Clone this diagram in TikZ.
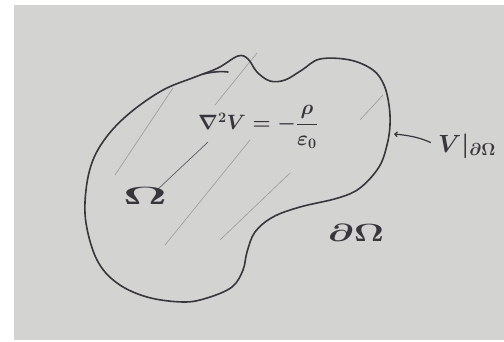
\documentclass[tikz,border=0pt]{standalone}
\usepackage{amsmath,amssymb}
\usepackage{graphicx}
\usepackage{tikz}
\usetikzlibrary{arrows.meta,calc}
\definecolor{sketchink}{HTML}{38353D}
\definecolor{sketchpaper}{HTML}{D3D3D1}
\definecolor{sketchpencil}{HTML}{9A9A9C}

\begin{document}
\begin{tikzpicture}[
  x=1pt, y=-1pt,
  ink/.style={draw=sketchink, line width=1.6pt, line cap=round, line join=round},
  pencil/.style={draw=sketchpencil, line width=0.6pt, line cap=round},
  lab/.style={text=sketchink, inner sep=0pt},
  arr/.style={-{Straight Barb[length=2.5pt,width=5pt]}, draw=sketchink, line width=1.2pt},
]
% paper sheet
\fill[white] (0,0) rectangle (504,341);
\useasboundingbox (0,0) rectangle (504,341);
\fill[sketchpaper] (14,5) rectangle (504,340);
% pencil hatching
\draw[pencil] (173,88) -- (115,175);
\draw[pencil] (257,53) -- (215,105);
\draw[pencil, draw=sketchink!80, line width=0.7pt] (208,142) -- (157,190);
\draw[pencil] (250,140) -- (165,245);
\draw[pencil] (290,173) -- (220,240);
\draw[pencil] (383,95) -- (360,120);
% region outline
\draw[ink] plot[smooth cycle, tension=0.6] coordinates {
  (218,68) (238,56) (248,59) (257,72) (270,81) (285,80) (302,70) (320,59)
  (350,60) (373,70) (384,85) (389,105) (390,125) (387,145) (379,167)
  (360,188) (338,198) (300,207) (273,217) (255,232) (247,252) (243,270)
  (232,287) (207,298) (183,302) (147,297) (117,283) (97,260) (86,223)
  (86,190) (93,160) (108,135) (131,112) (163,90) (195,77)};
\draw[ink] (203,74) .. controls (212,72) and (220,71) .. (228,72);
% labels
\node[lab, font=\fontsize{21}{25}\selectfont\boldmath] (eqn) at (258,127)
  {$\nabla^2 V = -\dfrac{\rho}{\varepsilon_0}$};
\node[lab, font=\fontsize{32}{36}\selectfont\boldmath] (omega) at (145,196)
  {\scalebox{2.2}[1]{$\Omega$}};
\node[lab, font=\fontsize{32}{36}\selectfont\boldmath] (bdry) at (356,233)
  {\scalebox{1.5}[1]{$\partial\Omega$}};
\node[lab, font=\fontsize{24}{28}\selectfont\boldmath] (vlab) at (467,146)
  {$V|_{\partial\Omega}$};
\coordinate (bnd) at (394,134);
\draw[arr, shorten <=8pt] (vlab.west) to[bend right=10] (bnd);
\end{tikzpicture}
\end{document}
